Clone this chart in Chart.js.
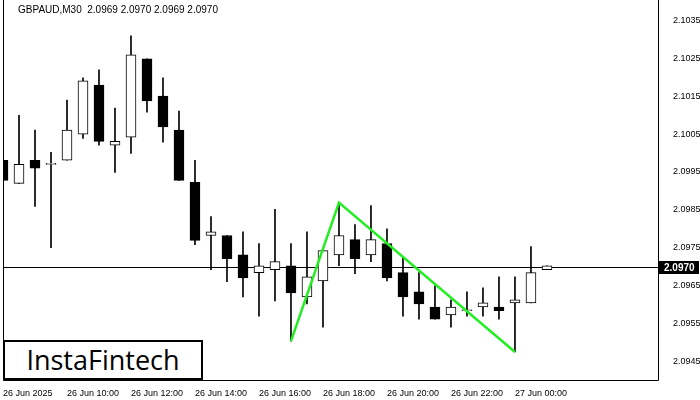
<!DOCTYPE html>
<html><head><meta charset="utf-8">
<script src="https://cdn.jsdelivr.net/npm/chart.js@4"></script>
<style>
html,body{margin:0;padding:0;background:#fff;}
#wrap{position:relative;width:700px;height:400px;}
#logo{position:absolute;left:3px;top:340px;width:196px;height:36px;border:2px solid #000;background:#fff;font-family:"Open Sans",Arial,sans-serif;font-size:27px;line-height:36px;text-align:center;color:#000;}
</style></head><body>
<div id="wrap"><canvas id="c" width="700" height="400"></canvas><div id="logo">InstaFintech</div></div>
<script>
const title = "GBPAUD,M30  2.0969 2.0970 2.0969 2.0970";
const opens  = [2.09981,2.09920,2.09981,2.09970,2.09981,2.10050,2.10180,2.10021,2.10042,2.10249,2.10151,2.10061,2.09923,2.09782,2.09782,2.09731,2.09684,2.09692,2.09702,2.09620,2.09662,2.09731,2.09771,2.09731,2.09761,2.09684,2.09633,2.09593,2.09572,2.09583,2.09593,2.09593,2.09604,2.09604,2.09692];
const highs  = [2.10079,2.10100,2.10061,2.10002,2.10140,2.10199,2.10220,2.10119,2.10310,2.10249,2.10199,2.10111,2.09981,2.09832,2.09782,2.09792,2.09761,2.09851,2.09761,2.09792,2.09742,2.09869,2.09811,2.09861,2.09800,2.09726,2.09684,2.09649,2.09612,2.09633,2.09644,2.09673,2.09673,2.09753,2.09702];
const lows   = [2.09928,2.09920,2.09859,2.09750,2.09981,2.10039,2.10021,2.09949,2.09999,2.10108,2.10029,2.09928,2.09758,2.09692,2.09660,2.09620,2.09569,2.09609,2.09503,2.09601,2.09540,2.09702,2.09681,2.09713,2.09662,2.09569,2.09561,2.09561,2.09540,2.09569,2.09569,2.09561,2.09474,2.09604,2.09692];
const closes = [2.09928,2.09970,2.09960,2.09970,2.10061,2.10191,2.10031,2.10031,2.10260,2.10138,2.10069,2.09928,2.09769,2.09792,2.09721,2.09670,2.09702,2.09713,2.09630,2.09673,2.09742,2.09782,2.09721,2.09771,2.09670,2.09620,2.09601,2.09561,2.09593,2.09583,2.09604,2.09583,2.09612,2.09684,2.09702];
const patternIdx = [18,21,32];
const patternVal = [2.09503,2.09869,2.09474];
const currentPrice = 2.0970;
const yTicks = [2.0945,2.0955,2.0965,2.0975,2.0985,2.0995,2.1005,2.1015,2.1025,2.1035];
const xTickIdx = [0,4,8,12,16,20,24,28,32];
const xTickLabels = ["26 Jun 2025","26 Jun 10:00","26 Jun 12:00","26 Jun 14:00","26 Jun 16:00","26 Jun 18:00","26 Jun 20:00","26 Jun 22:00","27 Jun 00:00"];

const wicks = highs.map((h,i)=>({x:i,y:[lows[i],h]}));
const bodies = opens.map((o,i)=>({x:i,y:[Math.min(o,closes[i]),Math.max(o,closes[i])]}));
const bodyFill = opens.map((o,i)=>closes[i]<o?'#000':'#fff');

const overlay = {
  id:'overlay',
  beforeDatasetsDraw(ch){
    const {ctx,chartArea:a,scales:{y}}=ch;
    ctx.save();
    ctx.strokeStyle='#000';ctx.lineWidth=1;
    const py=Math.round(y.getPixelForValue(currentPrice))+0.5;
    ctx.beginPath();ctx.moveTo(a.left,py);ctx.lineTo(a.right,py);ctx.stroke();
    ctx.restore();
  },
  afterDraw(ch){
    const {ctx,chartArea:a,scales:{y}}=ch;
    ctx.save();
    ctx.strokeStyle='#000';ctx.lineWidth=1;
    ctx.beginPath();
    ctx.moveTo(a.left+0.5,0);ctx.lineTo(a.left+0.5,a.bottom+0.5);ctx.lineTo(a.right+0.5,a.bottom+0.5);ctx.lineTo(a.right+0.5,0);
    ctx.stroke();
    const py=Math.round(y.getPixelForValue(currentPrice));
    ctx.fillStyle='#000';ctx.fillRect(a.right+1,py-6,40,13);
    ctx.fillStyle='#fff';ctx.font='bold 10px "Liberation Sans"';ctx.textBaseline='middle';
    ctx.fillText(currentPrice.toFixed(4),a.right+6,py+1);
    ctx.fillStyle='#000';ctx.font='10px "Liberation Sans"';ctx.textBaseline='middle';
    ctx.fillText(title,a.left+15,10);
    ctx.restore();
  }
};

new Chart(document.getElementById('c'),{
  type:'bar',
  data:{datasets:[
    {type:'line',data:patternIdx.map((x,i)=>({x,y:patternVal[i]})),borderColor:'#22ee22',borderWidth:2.5,pointRadius:0,order:1},
    {data:bodies,backgroundColor:bodyFill,borderColor:'#000',borderWidth:1,borderSkipped:false,barThickness:10,minBarLength:1,grouped:false,order:2},
    {data:wicks,backgroundColor:'#000',borderWidth:0,barThickness:1,grouped:false,order:3}
  ]},
  plugins:[overlay],
  options:{
    responsive:false,animation:false,
    layout:{padding:{left:3,top:0,right:0,bottom:0}},
    plugins:{legend:{display:false},tooltip:{enabled:false}},
    scales:{
      x:{type:'linear',offset:false,min:0,max:40.94,grid:{display:false},border:{display:false},
        afterBuildTicks(s){s.ticks=xTickIdx.map(v=>({value:v}));},
        afterFit(s){s.height=20;},
        ticks:{autoSkip:false,maxRotation:0,align:'start',padding:0,color:'#000',font:{family:'Liberation Sans',size:9},
          callback:(v)=>xTickLabels[xTickIdx.indexOf(v)]}},
      y:{position:'right',min:2.09400,max:2.10372,grid:{display:false},border:{display:false},
        afterBuildTicks(s){s.ticks=yTicks.map(v=>({value:v}));},
        afterFit(s){s.width=42;},
        ticks:{padding:7,color:'#000',font:{family:'Liberation Sans',size:9},callback:v=>v.toFixed(4)}}
    }
  }
});
</script></body></html>
